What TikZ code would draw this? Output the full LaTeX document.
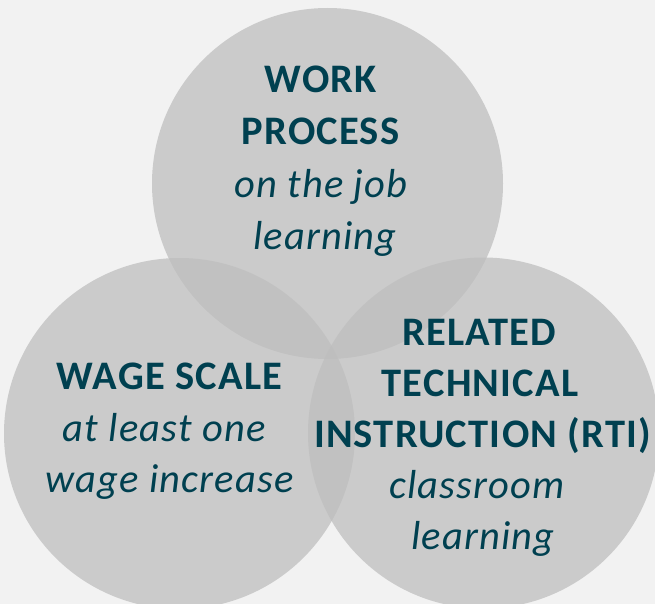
\documentclass[tikz,border=0pt]{standalone}
\usepackage{fontspec}
\setmainfont{Carlito}[LetterSpace=3]
\definecolor{bgc}{RGB}{242,242,242}
\definecolor{circc}{RGB}{190,190,190}
\definecolor{txtc}{RGB}{0,64,80}
\tikzset{
  circ/.style={circle, fill=circc, fill opacity=0.74, draw=none, minimum size=351pt, inner sep=0pt},
  hd/.style={anchor=base, text=txtc, inner sep=0pt, font=\fontsize{40.5}{48}\selectfont\bfseries},
  it/.style={anchor=base, text=txtc, inner sep=0pt, font=\fontsize{40.5}{48}\selectfont\itshape}
}
\begin{document}
\begin{tikzpicture}[x=1pt,y=-1pt]
\fill[bgc] (0,0) rectangle (655,604);
\useasboundingbox (0,0) rectangle (655,604);
\node[circ] (top) at (327.5,183.5) {};
\node[circ] (left) at (179.5,433.5) {};
\node[circ] (right) at (483.5,433) {};
% top texts
\node[hd] (t1) at (321,93) {WORK};
\node[hd] (t2) at (320.5,145) {PROCESS};
\node[it] (t3) at (321,197) {on the job};
\node[it] (t4) at (325,249) {learning};
% left texts
\node[hd] (l1) at (169.5,389) {WAGE SCALE};
\node[it] (l2) at (164,441) {at least one};
\node[it] (l3) at (169.5,492) {wage increase};
% right texts
\node[hd] (r1) at (479,345) {RELATED};
\node[hd] (r2) at (480,396) {TECHNICAL};
\node[hd] (r3) at (482.5,447) {INSTRUCTION (RTI)};
\node[it] (r4) at (477,498) {classroom};
\node[it] (r5) at (483,549) {learning};
\end{tikzpicture}
\end{document}
